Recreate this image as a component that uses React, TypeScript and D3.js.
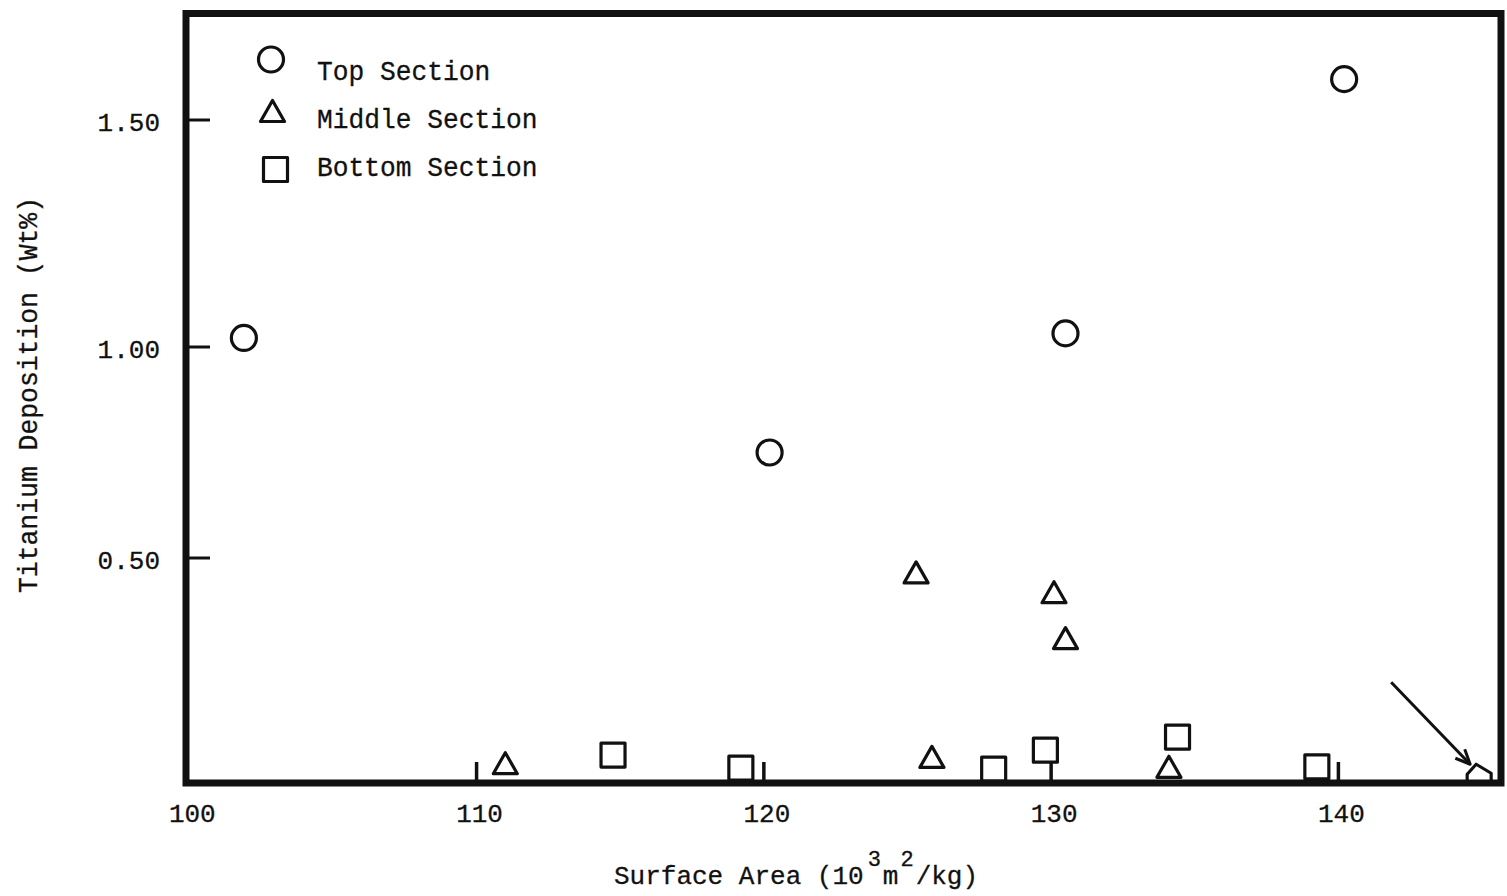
import React from "react";
import * as d3 from "d3";

// Titanium deposition against specific surface area, by bed section
const topX = [101.9, 120.2, 130.5, 140.2];
const topY = [1.02, 0.75, 1.03, 1.59];

const middleX = [111.0, 125.3, 125.85, 130.1, 130.5, 134.1];
const middleY = [0.044, 0.468, 0.058, 0.424, 0.322, 0.036];

const bottomX = [114.75, 119.2, 128.0, 129.8, 134.4, 139.25];
const bottomY = [0.062, 0.033, 0.031, 0.073, 0.102, 0.036];

// sample flagged with an arrow, sitting on the axis
const flaggedX = [144.9];
const flaggedY = [0.015];

const xTicks = [100, 110, 120, 130, 140];
const xTickLabels = ["100", "110", "120", "130", "140"];
const yTicks = [0.5, 1.0, 1.5];
const yTickLabels = ["0.50", "1.00", "1.50"];

const legendLabels = ["Top Section", "Middle Section", "Bottom Section"];

const W = 1507;
const H = 896;
const FRAME = { left: 186, right: 1501, top: 13.5, bottom: 783 };

const FONT = "'Liberation Mono', 'Courier New', monospace";
const INK = "#111";

const x = d3.scaleLinear().domain([100, 145.66]).range([189.3, FRAME.right]);
// the hand-ruled vertical axis is not evenly spaced, so calibrate on each tick
const y = d3
  .scaleLinear()
  .domain([0, 0.5, 1.0, 1.5])
  .range([FRAME.bottom, 558, 347, 120]);

const R = 12.5;
const SQ = 24;

function trianglePath(cx: number, cy: number) {
  const w = 24;
  const h = 21;
  return `M${cx},${cy - h / 2} L${cx + w / 2},${cy + h / 2} L${cx - w / 2},${cy + h / 2} Z`;
}

function squarePath(cx: number, cy: number) {
  const s = SQ / 2;
  return `M${cx - s},${cy - s} L${cx + s},${cy - s} L${cx + s},${cy + s} L${cx - s},${cy + s} Z`;
}

function housePath(cx: number, cy: number) {
  return `M${cx - 12},${cy + 8} L${cx - 12},${cy - 2} L${cx - 3},${cy - 12} L${cx + 12},${cy - 3} L${cx + 12},${cy + 8}`;
}

const markStyle = {
  fill: "none",
  stroke: INK,
  strokeWidth: 3.2,
  strokeLinejoin: "round" as const,
};

const textStyle = {
  fontFamily: FONT,
  fill: INK,
  stroke: INK,
  strokeWidth: 0.3,
};

export default function App() {
  const frame = d3.path();
  frame.moveTo(FRAME.left, FRAME.top);
  frame.lineTo(FRAME.right, FRAME.top);
  frame.lineTo(FRAME.right, FRAME.bottom);
  frame.lineTo(FRAME.left, FRAME.bottom);
  frame.closePath();

  const fx = x(flaggedX[0]);
  const fy = y(flaggedY[0]);
  const tipX = fx - 9;
  const tipY = fy - 12;
  const startX = tipX - 79;
  const startY = tipY - 82;
  const ang = Math.atan2(tipY - startY, tipX - startX);
  const barb = 16;
  const spread = 0.42;
  const b1 = [tipX - barb * Math.cos(ang - spread), tipY - barb * Math.sin(ang - spread)];
  const b2 = [tipX - barb * Math.cos(ang + spread), tipY - barb * Math.sin(ang + spread)];

  return (
    <svg
      width={W}
      height={H}
      viewBox={`0 0 ${W} ${H}`}
      style={{ position: "absolute", left: 0, top: 0, background: "#fff" }}
    >
      <rect x={0} y={0} width={W} height={H} fill="#fff" />

      {/* frame */}
      <path
        d={frame.toString()}
        fill="none"
        stroke={INK}
        strokeWidth={7}
        strokeLinejoin="miter"
      />

      {/* x ticks: short stubs rising from the axis */}
      {xTicks.slice(1).map((t) => (
        <line
          key={`xt${t}`}
          x1={x(t)}
          x2={x(t)}
          y1={FRAME.bottom}
          y2={FRAME.bottom - 21}
          stroke={INK}
          strokeWidth={3.5}
        />
      ))}
      {xTicks.map((t, i) => (
        <text
          key={`xl${t}`}
          x={x(t) + 3}
          y={822}
          textAnchor="middle"
          fontSize={26}
          style={textStyle}
        >
          {xTickLabels[i]}
        </text>
      ))}

      {/* y ticks */}
      {yTicks.map((t, i) => (
        <g key={`yt${t}`}>
          <line
            x1={FRAME.left}
            x2={FRAME.left + 24}
            y1={y(t)}
            y2={y(t)}
            stroke={INK}
            strokeWidth={3}
          />
          <text
            x={160}
            y={y(t) + 11}
            textAnchor="end"
            fontSize={26}
            style={textStyle}
          >
            {yTickLabels[i]}
          </text>
        </g>
      ))}

      {/* axis titles */}
      <text
        transform={`translate(37,395) rotate(-90)`}
        textAnchor="middle"
        fontSize={27}
        textLength={396}
        lengthAdjust="spacingAndGlyphs"
        style={textStyle}
      >
        Titanium Deposition (Wt%)
      </text>
      <text x={614} y={884} fontSize={26} style={textStyle}>
        Surface Area (10
        <tspan dy={-18} dx={4} fontSize={22}>
          3
        </tspan>
        <tspan dy={18} dx={2}>
          m
        </tspan>
        <tspan dy={-18} dx={2} fontSize={22}>
          2
        </tspan>
        <tspan dy={18} dx={2}>
          /kg)
        </tspan>
      </text>

      {/* legend */}
      <circle cx={271} cy={59.5} r={R} style={markStyle} />
      <path d={trianglePath(272.5, 111)} style={markStyle} />
      <path d={squarePath(275.5, 169.5)} style={markStyle} />
      {legendLabels.map((lab, i) => (
        <text
          key={lab}
          x={317}
          y={80 + i * 48}
          fontSize={27}
          textLength={lab.length * 15.75}
          lengthAdjust="spacingAndGlyphs"
          style={textStyle}
        >
          {lab}
        </text>
      ))}

      {/* top section */}
      {topX.map((v, i) => (
        <circle key={`t${i}`} cx={x(v)} cy={y(topY[i])} r={R} style={markStyle} />
      ))}

      {/* middle section */}
      {middleX.map((v, i) => (
        <path key={`m${i}`} d={trianglePath(x(v), y(middleY[i]))} style={markStyle} />
      ))}

      {/* bottom section */}
      {bottomX.map((v, i) => (
        <path key={`b${i}`} d={squarePath(x(v), y(bottomY[i]))} style={markStyle} />
      ))}

      {/* flagged sample and its arrow */}
      <path d={housePath(fx, fy)} style={markStyle} />
      <line x1={startX} y1={startY} x2={tipX} y2={tipY} stroke={INK} strokeWidth={3} />
      <path
        d={`M${b1[0]},${b1[1]} L${tipX},${tipY} L${b2[0]},${b2[1]}`}
        fill="none"
        stroke={INK}
        strokeWidth={3}
        strokeLinejoin="round"
      />
    </svg>
  );
}
